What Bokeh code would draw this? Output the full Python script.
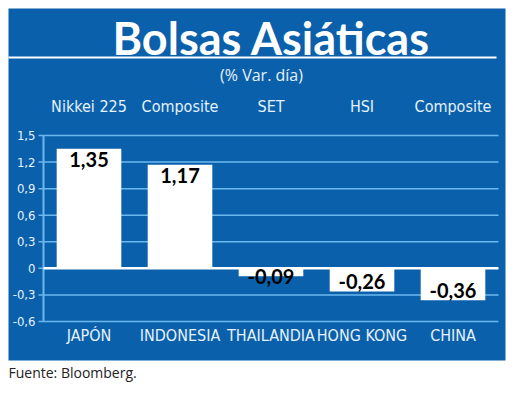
from bokeh.plotting import figure
from bokeh.models import ColumnDataSource, Range1d, BoxAnnotation
from bokeh.core.properties import value
from bokeh.embed import file_html
from bokeh.resources import INLINE

# data
countries = ["JAPÓN", "INDONESIA", "THAILANDIA", "HONG KONG", "CHINA"]
indices = ["Nikkei 225", "Composite", "SET", "HSI", "Composite"]
changes = [1.35, 1.17, -0.09, -0.26, -0.36]
y_ticks = [-0.6, -0.3, 0, 0.3, 0.6, 0.9, 1.2, 1.5]

title = "Bolsas Asiáticas"
subtitle = "(% Var. día)"
source_note = "Fuente: Bloomberg."

BLUE = "#0a60ab"
GRID = "#6cb8ee"
LIGHT = "#e6f2fc"
NARROW = value("DejaVu Sans Condensed")

# page layout in pixels: the gridded area spans FL..FR, FT..FB
W, H = 513, 396
FL, FR, FT, FB = 43, 498, 135, 321
Y0, Y1 = y_ticks[0], y_ticks[-1]
n = len(countries)
xpos = [i + 0.5 for i in range(n)]
ppx = (FR - FL) / n          # pixels per category
ppy = (FB - FT) / (Y1 - Y0)  # pixels per unit


def px_x(px):
    return (px - FL) / ppx


def px_y(py):
    return Y0 + (FB - py) / ppy


p = figure(width=W, height=H, output_backend="svg", toolbar_location=None,
           x_range=Range1d(px_x(0), px_x(W)), y_range=Range1d(px_y(H), px_y(0)),
           min_border=0)
p.axis.visible = False
p.grid.visible = False
p.outline_line_color = None
p.background_fill_color = "white"
p.border_fill_color = "white"

# blue panel and white rule under the title
p.add_layout(BoxAnnotation(left=px_x(8), right=px_x(505), top=px_y(8), bottom=px_y(360),
                           fill_color=BLUE, fill_alpha=1, line_color=None, level="underlay"))
p.add_layout(BoxAnnotation(left=px_x(8), right=px_x(496), top=px_y(56), bottom=px_y(58),
                           fill_color="white", fill_alpha=1, line_color=None, level="underlay"))

p.text(x=[px_x(271)], y=[px_y(37)], text=[title], text_font=value("Lato"), text_font_style="bold",
       text_font_size="45px", text_color="white", text_align="center", text_baseline="middle")
p.text(x=[px_x(261)], y=[px_y(74)], text=[subtitle], text_font=value("Open Sans"),
       text_font_size="16px", text_color=LIGHT, text_align="center", text_baseline="middle")
p.text(x=xpos, y=[px_y(106)] * n, text=indices, text_font=NARROW,
       text_font_size="16px", text_color=LIGHT, text_align="center", text_baseline="middle")
p.text(x=[px_x(8)], y=[px_y(372)], text=[source_note], text_font=value("Open Sans"),
       text_font_size="14px", text_color="#222222", text_align="left", text_baseline="middle")

# value axis: grid, axis line, ticks, labels
x_left, x_right = px_x(FL), px_x(FR)
grid_ticks = [t for t in y_ticks if t != 0]
p.segment(x0=[x_left] * len(grid_ticks), y0=grid_ticks, x1=[x_right] * len(grid_ticks),
          y1=grid_ticks, line_color=GRID, line_width=1.5)
p.segment(x0=[px_x(FL - 5)] * len(y_ticks), y0=y_ticks, x1=[x_left] * len(y_ticks), y1=y_ticks,
          line_color=GRID, line_width=1.5)
p.segment(x0=[x_left], y0=[Y0], x1=[x_left], y1=[Y1], line_color=GRID, line_width=2)
tick_text = ["0" if t == 0 else f"{t:.1f}".replace(".", ",") for t in y_ticks]
p.text(x=[x_left] * len(y_ticks), y=y_ticks, text=tick_text, x_offset=-8,
       text_font=NARROW, text_font_size="13px", text_color=LIGHT,
       text_align="right", text_baseline="middle")

# category labels under the bars
p.text(x=xpos, y=[Y0] * n, text=countries, y_offset=4, text_font=NARROW,
       text_font_size="16px", text_color=LIGHT, text_align="center", text_baseline="top")

# bars
src = ColumnDataSource(dict(x=xpos, top=changes))
p.vbar(x="x", top="top", bottom=0, width=0.71, source=src, fill_color="white", line_color=None)
p.segment(x0=[x_left], y0=[0], x1=[x_right], y1=[0], line_color="white", line_width=2.5)

labels = [f"{v:.2f}".replace(".", ",") for v in changes]
pos = ColumnDataSource(dict(x=[x for x, v in zip(xpos, changes) if v >= 0],
                            y=[v for v in changes if v >= 0],
                            t=[l for l, v in zip(labels, changes) if v >= 0]))
neg = ColumnDataSource(dict(x=[x for x, v in zip(xpos, changes) if v < 0],
                            y=[min(v, -0.2) for v in changes if v < 0],
                            t=[l for l, v in zip(labels, changes) if v < 0]))
p.text(x="x", y="y", text="t", source=pos, text_font=value("Lato"), text_font_style="bold",
       text_font_size="20px", text_color="black", text_align="center", text_baseline="top",
       y_offset=3)
p.text(x="x", y="y", text="t", source=neg, text_font=value("Lato"), text_font_style="bold",
       text_font_size="20px", text_color="black", text_align="center", text_baseline="bottom",
       y_offset=-2)

open("out.html", "w").write(file_html(p, INLINE))
